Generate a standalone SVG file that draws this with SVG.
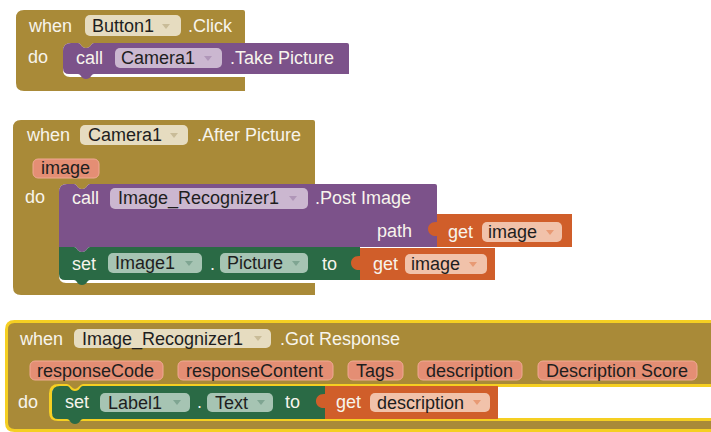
<svg xmlns="http://www.w3.org/2000/svg" width="711" height="432" viewBox="0 0 711 432">
<style>
text{font-family:"Liberation Sans",Arial,sans-serif;font-size:18px}
.lbl{fill:#F7F4EC}
.ft{fill:#1E1E1E}
.gold{fill:#A98A38}
.sel{stroke:#F5CF22;stroke-width:3}
.purple{fill:#7C528A}
.green{fill:#2A6A45}
.orange{fill:#D05E2A}
.pg{fill:#E6DCC0}
.pp{fill:#CBB7D0}
.pgr{fill:#A6C4B3}
.po{fill:#F1C2AA}
.par{fill:#E48E74;stroke:#EFA993;stroke-width:1}
.ag{fill:#C9BC98}
.ap{fill:#B096B8}
.agr{fill:#7FA592}
.ao{fill:#E89A74}
</style>
<rect width="711" height="432" fill="#FFFFFF"/>

<g id="event-button1-click">
<path class="gold" d="M16,18 Q16,10 24,10 H243 Q245,10 245,12 V43 H94 C91,43 91,48 86,48 C81,48 81,43 78,43 H71 Q63,43 63,51 V70 Q63,77 70,77 H245 V91 H24 Q16,91 16,83 Z"/>
<text class="lbl" x="29" y="32">when</text>
<rect class="pg" x="85" y="15" width="96" height="21" rx="5"/>
<text class="ft" x="92" y="32">Button1</text>
<polygon class="ag" points="162,24 170,24 166,29"/>
<text class="lbl" x="188" y="32">.Click</text>
<text class="lbl" x="28" y="63">do</text>
</g>
<g id="call-camera1-takepicture">
<path class="purple" d="M63,51 Q63,43 71,43 H78 C81,43 81,48 86,48 C91,48 91,43 94,43 H347 Q349,43 349,45 V74 H94 C91,74 91,79 86,79 C81,79 81,74 78,74 H69 Q63,74 63,68 Z"/>
<text class="lbl" x="76" y="64">call</text>
<rect class="pp" x="115" y="48" width="107" height="20" rx="5"/>
<text class="ft" x="121" y="64">Camera1</text>
<polygon class="ap" points="204,56 212,56 208,61"/>
<text class="lbl" x="230" y="64">.Take Picture</text>
</g>

<g id="event-camera1-afterpicture">
<path class="gold" d="M13,128 Q13,120 21,120 H313 Q315,120 315,122 V184 H90 C87,184 87,189 82,189 C77,189 77,184 74,184 H67 Q59,184 59,192 V276 Q59,283 66,283 H315 V295 H21 Q13,295 13,287 Z"/>
<text class="lbl" x="27" y="141">when</text>
<rect class="pg" x="80" y="125" width="108" height="20" rx="5"/>
<text class="ft" x="88" y="141">Camera1</text>
<polygon class="ag" points="170,133 178,133 174,138"/>
<text class="lbl" x="197" y="141">.After Picture</text>
<rect class="par" x="33" y="159" width="66" height="19" rx="5"/>
<text class="ft" x="41" y="174">image</text>
<text class="lbl" x="25" y="203">do</text>
</g>
<g id="call-image-recognizer1-postimage">
<path class="purple" d="M59,192 Q59,184 67,184 H74 C77,184 77,189 82,189 C87,189 87,184 90,184 H435 Q437,184 437,186 V247 H90 C87,247 87,252 82,252 C77,252 77,247 74,247 H59 Z"/>
<text class="lbl" x="72" y="204">call</text>
<rect class="pp" x="110" y="188" width="198" height="21" rx="5"/>
<text class="ft" x="118" y="204">Image_Recognizer1</text>
<polygon class="ap" points="289,196 297,196 293,201"/>
<text class="lbl" x="315" y="204">.Post Image</text>
<text class="lbl" x="377" y="237">path</text>
</g>
<g id="get-image-path">
<path class="orange" d="M437,214 H572 V247 H437 V236 C425,237 425,221 437,222 Z"/>
<text class="lbl" x="448" y="238">get</text>
<rect class="po" x="482" y="222" width="80" height="20" rx="5"/>
<text class="ft" x="488" y="238">image</text>
<polygon class="ao" points="546,230 554,230 550,235"/>
</g>
<g id="set-image1-picture">
<path class="green" d="M59,247 H74 C77,247 77,252 82,252 C87,252 87,247 90,247 H360 V280 H90 C87,280 87,285 82,285 C77,285 77,280 74,280 H65 Q59,280 59,274 Z"/>
<text class="lbl" x="72" y="270">set</text>
<rect class="pgr" x="108" y="253" width="94" height="20" rx="5"/>
<text class="ft" x="115" y="269">Image1</text>
<polygon class="agr" points="185,261 193,261 189,266"/>
<text class="lbl" x="210" y="270">.</text>
<rect class="pgr" x="220" y="253" width="88" height="20" rx="5"/>
<text class="ft" x="227" y="269">Picture</text>
<polygon class="agr" points="292,261 300,261 296,266"/>
<text class="lbl" x="322" y="270">to</text>
</g>
<g id="get-image-set">
<path class="orange" d="M360,248 H495 V280 H360 V270 C348,271 348,255 360,256 Z"/>
<text class="lbl" x="373" y="270">get</text>
<rect class="po" x="405" y="254" width="82" height="20" rx="5"/>
<text class="ft" x="411" y="270">image</text>
<polygon class="ao" points="469,262 477,262 473,267"/>
</g>

<g id="event-image-recognizer1-gotresponse">
<path class="gold sel" d="M6.5,329.5 Q6.5,321.5 14.5,321.5 H740 V385.5 H83 C80,385.5 80,390.5 75,390.5 C70,390.5 70,385.5 67,385.5 H58.5 Q50.5,385.5 50.5,393.5 V412 Q50.5,419.5 58,419.5 H740 V430.5 H14.5 Q6.5,430.5 6.5,422.5 Z"/>
<text class="lbl" x="20" y="345">when</text>
<rect class="pg" x="74" y="329" width="197" height="19" rx="5"/>
<text class="ft" x="82" y="345">Image_Recognizer1</text>
<polygon class="ag" points="254,336 262,336 258,341"/>
<text class="lbl" x="280" y="345">.Got Response</text>
<rect class="par" x="30" y="361" width="133" height="19" rx="5"/>
<text class="ft" x="37" y="377">responseCode</text>
<rect class="par" x="178" y="361" width="155" height="19" rx="5"/>
<text class="ft" x="186" y="377">responseContent</text>
<rect class="par" x="348" y="361" width="55" height="19" rx="5"/>
<text class="ft" x="356" y="377">Tags</text>
<rect class="par" x="418" y="361" width="104" height="19" rx="5"/>
<text class="ft" x="426" y="377">description</text>
<rect class="par" x="538" y="361" width="159" height="19" rx="5"/>
<text class="ft" x="546" y="377">Description Score</text>
<text class="lbl" x="18" y="408">do</text>
</g>
<g id="set-label1-text">
<path class="green" d="M52,394 Q52,386 60,386 H67 C70,386 70,391 75,391 C80,391 80,386 83,386 H325 V419 H83 C80,419 80,424 75,424 C70,424 70,419 67,419 H58 Q52,419 52,413 Z"/>
<text class="lbl" x="65" y="408">set</text>
<rect class="pgr" x="100" y="393" width="90" height="19" rx="5"/>
<text class="ft" x="108" y="409">Label1</text>
<polygon class="agr" points="173,400 181,400 177,405"/>
<text class="lbl" x="197" y="408">.</text>
<rect class="pgr" x="207" y="393" width="66" height="19" rx="5"/>
<text class="ft" x="215" y="409">Text</text>
<polygon class="agr" points="257,400 265,400 261,405"/>
<text class="lbl" x="285" y="408">to</text>
</g>
<g id="get-description">
<path class="orange" d="M325,386 H498 V419 H325 V408 C313,409 313,393 325,394 Z"/>
<text class="lbl" x="336" y="408">get</text>
<rect class="po" x="370" y="393" width="120" height="19" rx="5"/>
<text class="ft" x="377" y="409">description</text>
<polygon class="ao" points="473,400 481,400 477,405"/>
</g>
<g id="connectors"/>
</svg>
